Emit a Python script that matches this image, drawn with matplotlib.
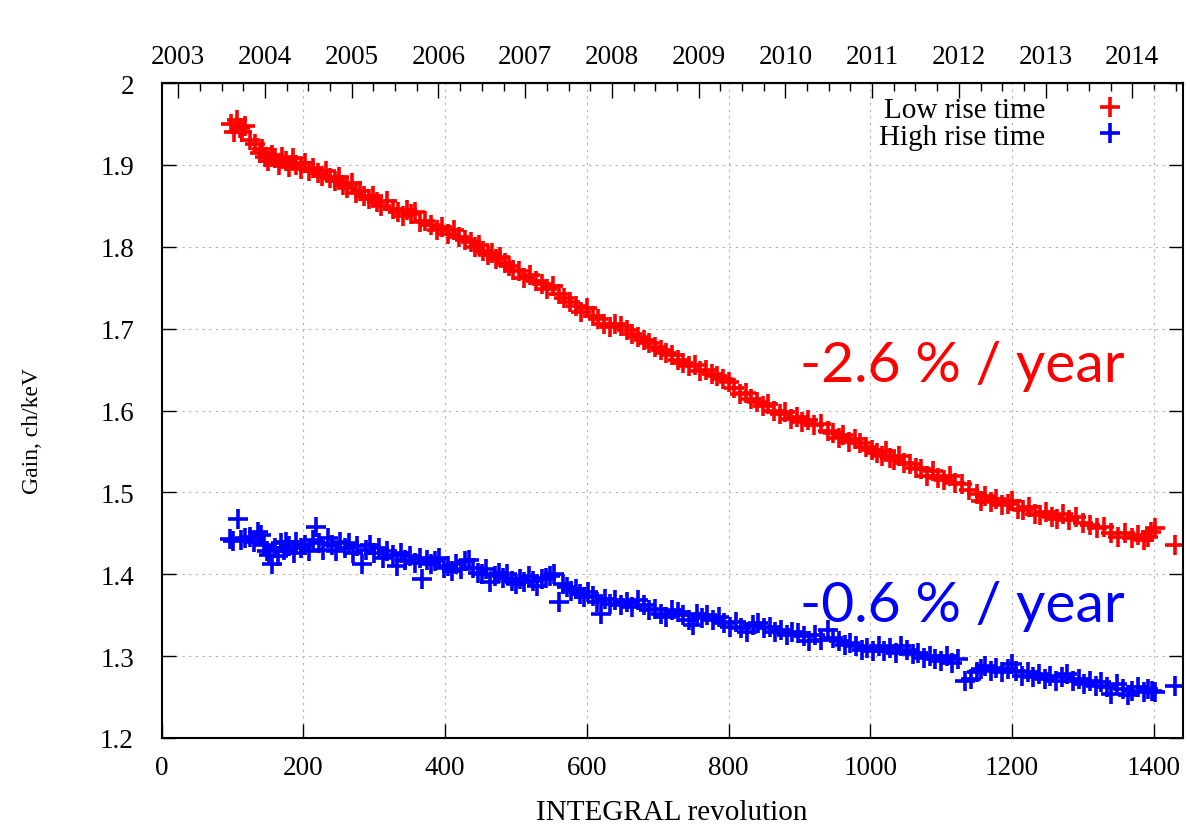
import matplotlib
matplotlib.use('Agg')
import matplotlib.pyplot as plt
from matplotlib.ticker import MultipleLocator

# data: INTEGRAL revolution vs gain (ch/keV)
low_rev = [98, 102, 106, 110, 114, 118, 125, 132, 138, 142, 146, 150, 155, 160, 165,
           170, 175, 180, 185, 190, 196, 202, 208, 214, 220, 226, 232, 238, 244, 250,
           256, 262, 268, 274, 280, 286, 292, 298, 304, 310, 318, 326, 334, 340, 346,
           352, 358, 364, 372, 380, 388, 396, 404, 412, 420, 428, 436, 442, 448, 454,
           460, 466, 472, 478, 484, 490, 496, 504, 512, 520, 528, 536, 544, 552, 560,
           568, 576, 584, 592, 600, 608, 616, 624, 632, 640, 648, 656, 664, 672, 680,
           688, 696, 704, 712, 720, 728, 736, 744, 752, 760, 768, 776, 784, 792, 800,
           808, 816, 824, 832, 840, 848, 856, 864, 872, 880, 888, 896, 904, 912, 920,
           930, 940, 948, 956, 962, 970, 978, 986, 994, 1002, 1010, 1016, 1022, 1028,
           1034, 1040, 1048, 1056, 1064, 1072, 1080, 1088, 1096, 1104, 1112, 1120, 1130,
           1140, 1150, 1156, 1162, 1170, 1178, 1186, 1194, 1200, 1208, 1216, 1224, 1232,
           1240, 1248, 1256, 1264, 1272, 1280, 1290, 1300, 1310, 1320, 1330, 1340, 1350,
           1360, 1370, 1378, 1386, 1392, 1396, 1402, 1430]
low_gain = [1.950, 1.940, 1.955, 1.945, 1.940, 1.948, 1.930, 1.925, 1.915, 1.920, 1.910,
            1.905, 1.912, 1.908, 1.900, 1.910, 1.905, 1.898, 1.908, 1.900, 1.895, 1.902,
            1.893, 1.896, 1.890, 1.886, 1.893, 1.884, 1.880, 1.885, 1.876, 1.872, 1.878,
            1.866, 1.868, 1.862, 1.858, 1.862, 1.855, 1.850, 1.856, 1.846, 1.842, 1.838,
            1.845, 1.840, 1.842, 1.830, 1.832, 1.826, 1.820, 1.824, 1.815, 1.820, 1.812,
            1.808, 1.806, 1.800, 1.802, 1.795, 1.790, 1.792, 1.785, 1.788, 1.780, 1.776,
            1.772, 1.770, 1.762, 1.765, 1.758, 1.754, 1.748, 1.752, 1.742, 1.738, 1.732,
            1.728, 1.720, 1.725, 1.715, 1.712, 1.706, 1.702, 1.706, 1.703, 1.698, 1.694,
            1.690, 1.686, 1.682, 1.678, 1.674, 1.670, 1.668, 1.662, 1.658, 1.654, 1.656,
            1.648, 1.650, 1.644, 1.642, 1.638, 1.635, 1.628, 1.620, 1.622, 1.614, 1.610,
            1.606, 1.608, 1.600, 1.596, 1.598, 1.590, 1.592, 1.586, 1.588, 1.582, 1.584,
            1.575, 1.572, 1.566, 1.570, 1.562, 1.565, 1.560, 1.555, 1.552, 1.548, 1.545,
            1.550, 1.542, 1.540, 1.545, 1.536, 1.535, 1.530, 1.528, 1.520, 1.526, 1.518,
            1.515, 1.520, 1.512, 1.510, 1.503, 1.498, 1.490, 1.495, 1.488, 1.492, 1.484,
            1.486, 1.490, 1.480, 1.478, 1.482, 1.474, 1.472, 1.476, 1.470, 1.468, 1.474,
            1.466, 1.470, 1.462, 1.460, 1.456, 1.458, 1.450, 1.446, 1.450, 1.444, 1.448,
            1.442, 1.446, 1.452, 1.456, 1.436]

high_rev = [96, 100, 108, 112, 118, 124, 130, 136, 140, 144, 148, 152, 156, 160, 164,
            168, 172, 176, 180, 186, 190, 196, 202, 208, 214, 218, 222, 228, 234, 240,
            246, 252, 258, 264, 270, 276, 282, 288, 294, 300, 306, 312, 318, 326, 332,
            338, 344, 350, 358, 364, 368, 374, 380, 386, 392, 398, 404, 410, 416, 422,
            428, 434, 440, 446, 452, 458, 464, 470, 476, 482, 488, 494, 500, 506, 512,
            518, 524, 530, 536, 542, 548, 554, 560, 566, 572, 578, 584, 590, 596, 602,
            608, 614, 620, 626, 632, 640, 648, 656, 664, 672, 680, 688, 696, 704, 712,
            720, 728, 736, 744, 750, 756, 762, 770, 778, 786, 794, 802, 810, 818, 826,
            834, 842, 850, 858, 866, 874, 882, 890, 898, 906, 914, 922, 930, 940, 948,
            956, 964, 972, 980, 988, 996, 1004, 1012, 1020, 1028, 1036, 1044, 1052, 1060,
            1068, 1076, 1084, 1092, 1100, 1108, 1116, 1124, 1134, 1142, 1150, 1156, 1162,
            1170, 1178, 1186, 1194, 1200, 1206, 1214, 1222, 1230, 1238, 1246, 1254, 1262,
            1270, 1278, 1286, 1294, 1302, 1310, 1318, 1326, 1334, 1340, 1348, 1356, 1364,
            1370, 1378, 1386, 1392, 1398, 1402, 1430]
high_gain = [1.443, 1.441, 1.468, 1.442, 1.444, 1.446, 1.440, 1.452, 1.448, 1.436, 1.428,
             1.424, 1.412, 1.432, 1.422, 1.438, 1.430, 1.440, 1.434, 1.426, 1.440, 1.432,
             1.436, 1.428, 1.442, 1.458, 1.438, 1.430, 1.444, 1.436, 1.428, 1.440, 1.432,
             1.438, 1.426, 1.434, 1.412, 1.430, 1.436, 1.426, 1.432, 1.420, 1.428, 1.424,
             1.410, 1.426, 1.418, 1.422, 1.414, 1.420, 1.394, 1.418, 1.412, 1.416, 1.420,
             1.408, 1.410, 1.404, 1.412, 1.406, 1.416, 1.418, 1.408, 1.402, 1.400, 1.406,
             1.390, 1.398, 1.402, 1.396, 1.400, 1.392, 1.388, 1.394, 1.390, 1.398, 1.392,
             1.386, 1.394, 1.396, 1.398, 1.400, 1.366, 1.388, 1.384, 1.380, 1.382, 1.376,
             1.372, 1.378, 1.374, 1.366, 1.352, 1.370, 1.364, 1.368, 1.362, 1.366, 1.360,
             1.368, 1.362, 1.356, 1.358, 1.352, 1.348, 1.356, 1.354, 1.350, 1.344, 1.338,
             1.352, 1.346, 1.350, 1.344, 1.348, 1.340, 1.336, 1.342, 1.334, 1.330, 1.338,
             1.340, 1.334, 1.336, 1.330, 1.332, 1.326, 1.330, 1.328, 1.324, 1.318, 1.326,
             1.320, 1.332, 1.322, 1.318, 1.314, 1.316, 1.312, 1.308, 1.310, 1.306, 1.312,
             1.306, 1.310, 1.304, 1.312, 1.308, 1.302, 1.304, 1.298, 1.300, 1.296, 1.294,
             1.300, 1.292, 1.296, 1.270, 1.272, 1.280, 1.284, 1.288, 1.282, 1.286, 1.280,
             1.284, 1.290, 1.282, 1.276, 1.280, 1.274, 1.278, 1.272, 1.276, 1.270, 1.274,
             1.278, 1.270, 1.272, 1.266, 1.270, 1.264, 1.268, 1.262, 1.254, 1.266, 1.260,
             1.252, 1.258, 1.262, 1.256, 1.260, 1.258, 1.256, 1.263]

years = list(range(2003, 2015))
ytick_vals = [1.2, 1.3, 1.4, 1.5, 1.6, 1.7, 1.8, 1.9, 2.0]
ytick_text = ['1.2', '1.3', '1.4', '1.5', '1.6', '1.7', '1.8', '1.9', '2']

# revolution <-> calendar year (about 122 revs per year)
REV_2004 = 145.8
REV_PER_YEAR = 122.4


def rev2year(r):
    return 2004 + (r - REV_2004) / REV_PER_YEAR


def year2rev(y):
    return REV_2004 + (y - 2004) * REV_PER_YEAR


plt.rcParams['font.family'] = ['Liberation Serif', 'DejaVu Serif']

fig = plt.figure(figsize=(11.9, 8.28), dpi=100)
ax = fig.add_axes([0.1359, 0.1075, 0.858, 0.791])

ax.plot(low_rev, low_gain, linestyle='none', marker='+', markersize=14,
        markeredgewidth=2.6, color='#ff0000', label='Low rise time')
ax.plot(high_rev, high_gain, linestyle='none', marker='+', markersize=14,
        markeredgewidth=2.6, color='#0000ff', label='High rise time')

ax.set_xlim(0, 1441)
ax.set_ylim(1.2, 2.0)
ax.xaxis.set_major_locator(MultipleLocator(200))
ax.set_yticks(ytick_vals)
ax.set_yticklabels(ytick_text)

ax.grid(True, color='#b0b0b0', linestyle=(0, (2, 4)), linewidth=0.8)
for s in ax.spines.values():
    s.set_linewidth(1.5)

ax.tick_params(axis='x', which='major', direction='in', length=10, width=1,
               labelsize=19.5, pad=12)
ax.tick_params(axis='y', which='major', direction='in', length=10, width=1,
               labelsize=19.5, pad=20, right=True)

# calendar years on top
top = ax.secondary_xaxis('top', functions=(rev2year, year2rev))
top.set_xticks(years)
top.xaxis.set_minor_locator(MultipleLocator(0.25))
top.tick_params(which='major', direction='in', length=11, width=1,
                labelsize=19.5, pad=10)
top.tick_params(which='minor', direction='in', length=6, width=1)
top.spines['top'].set_linewidth(1.5)

ax.set_xlabel('INTEGRAL revolution', fontsize=21)
ax.xaxis.set_label_coords(0.5, -0.093)
ax.set_ylabel('Gain, ch/keV', fontsize=17)
ax.yaxis.set_label_coords(-0.116, 0.47)

ax.legend(loc='upper right', bbox_to_anchor=(0.957, 0.979), frameon=False,
          markerfirst=False, fontsize=21, borderpad=0, borderaxespad=0,
          labelspacing=0, handlelength=2.0, handletextpad=1.2)

ax.text(901, 1.636, '-2.6 % / year', color='#ff0000', fontsize=41,
        family=['Lato', 'DejaVu Sans'], ha='left', va='baseline')
ax.text(901, 1.343, '-0.6 % / year', color='#0000ff', fontsize=41,
        family=['Lato', 'DejaVu Sans'], ha='left', va='baseline')

fig.savefig('out.png', dpi=100)
